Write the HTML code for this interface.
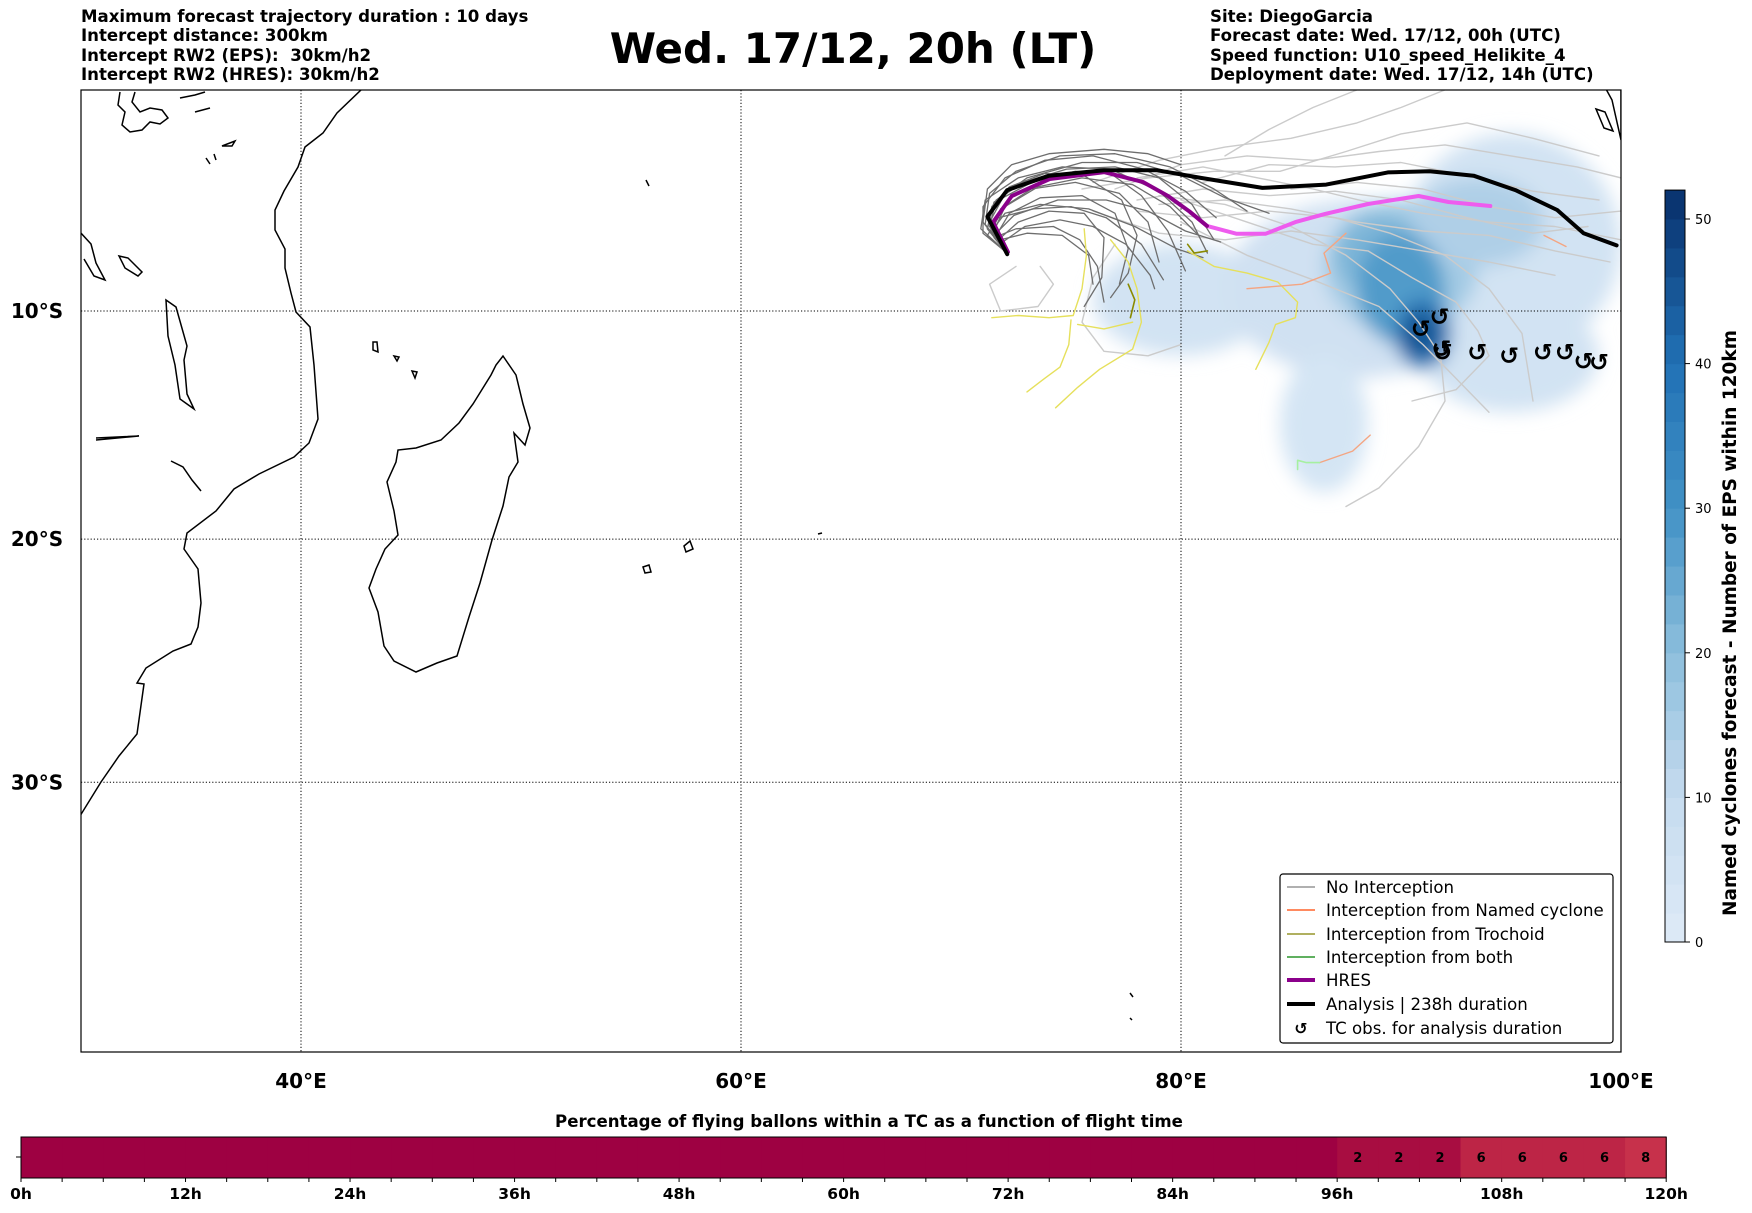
<!DOCTYPE html>
<html><head><meta charset="utf-8">
<style>
html,body{margin:0;padding:0;background:#fff;}
svg{display:block;font-family:"DejaVu Sans","Liberation Sans",sans-serif;}
</style></head>
<body>
<svg id="fig" width="1752" height="1213" viewBox="0 0 1752 1213" xmlns="http://www.w3.org/2000/svg">
<defs>
<filter id="blur" x="-50%" y="-50%" width="200%" height="200%"><feGaussianBlur stdDeviation="9"/></filter>
<clipPath id="mapclip"><rect x="81" y="90" width="1540" height="962"/></clipPath>
</defs>
<g font-weight="bold" font-size="16.6" fill="#000">
<text x="81" y="22">Maximum forecast trajectory duration : 10 days</text>
<text x="81" y="41">Intercept distance: 300km</text>
<text x="81" y="61" xml:space="preserve">Intercept RW2 (EPS):  30km/h2</text>
<text x="81" y="80">Intercept RW2 (HRES): 30km/h2</text>
</g>
<text x="853" y="63" text-anchor="middle" font-size="42" font-weight="bold">Wed. 17/12, 20h (LT)</text>
<g font-weight="bold" font-size="16.6" fill="#000">
<text x="1210" y="22">Site: DiegoGarcia</text>
<text x="1210" y="41">Forecast date: Wed. 17/12, 00h (UTC)</text>
<text x="1210" y="61">Speed function: U10_speed_Helikite_4</text>
<text x="1210" y="80">Deployment date: Wed. 17/12, 14h (UTC)</text>
</g>
<g id="map" clip-path="url(#mapclip)">
<g id="density" filter="url(#blur)"></g>
<g id="coast" fill="none" stroke="#000" stroke-width="1.5"></g>
<g id="grid"></g>
<g id="traj" fill="none" stroke-linejoin="round" stroke-linecap="round"></g>
<g id="tc"></g>
</g>
<rect x="81" y="90" width="1540" height="962" fill="none" stroke="#000" stroke-width="1.2"/>
<g id="axlabels" font-weight="bold" font-size="20"></g>
<g>
<rect x="1280" y="874" width="333" height="169" rx="3" fill="#fff" stroke="#000" stroke-width="1.2"/>
<g font-size="16.6">
<line x1="1287" x2="1315" y1="887" y2="887" stroke="#808080" stroke-width="1.3"/><text x="1326" y="893">No Interception</text>
<line x1="1287" x2="1315" y1="910" y2="910" stroke="#ff4500" stroke-width="1.3"/><text x="1326" y="916">Interception from Named cyclone</text>
<line x1="1287" x2="1315" y1="934" y2="934" stroke="#808000" stroke-width="1.3"/><text x="1326" y="940">Interception from Trochoid</text>
<line x1="1287" x2="1315" y1="957" y2="957" stroke="#008000" stroke-width="1.3"/><text x="1326" y="963">Interception from both</text>
<line x1="1287" x2="1315" y1="980" y2="980" stroke="#8b008b" stroke-width="4"/><text x="1326" y="986">HRES</text>
<line x1="1287" x2="1315" y1="1004" y2="1004" stroke="#000" stroke-width="4"/><text x="1326" y="1010">Analysis | 238h duration</text>
<text x="1301" y="1034" text-anchor="middle" font-weight="bold" font-size="16">↺</text><text x="1326" y="1034">TC obs. for analysis duration</text>
</g>
</g>
<g id="cbar"></g>
<text transform="translate(1736,623) rotate(-90)" text-anchor="middle" font-weight="bold" font-size="18.5">Named cyclones forecast - Number of EPS within 120km</text>
<text x="869" y="1127" text-anchor="middle" font-weight="bold" font-size="16.6">Percentage of flying ballons within a TC as a function of flight time</text>
<g id="tbar"></g>
</svg>
<script>
// ---- data ----
const gridLons = [40, 60, 80, 100];
const gridLats = [10, 20, 30];
const lonLabels = ["40°E", "60°E", "80°E", "100°E"];
const latLabels = ["10°S", "20°S", "30°S"];
const analysisLon = [72.1,71.2,72.1,74.0,76.5,78.9,80.9,83.7,86.6,89.4,91.3,93.3,95.2,97.1,98.3,99.8];
const analysisLat = [7.45,5.75,4.55,3.9,3.65,3.65,4.0,4.45,4.3,3.75,3.7,3.9,4.55,5.45,6.5,7.05];
const hresDarkLon = [72.13,71.46,72.31,74.03,76.52,78.28,79.41,80.41,81.18];
const hresDarkLat = [7.35,6.0,4.82,4.05,3.74,4.19,4.82,5.54,6.17];
const hresPinkLon = [80.41,81.18,82.53,83.84,85.2,86.55,88.5,90.8,92.16,94.06];
const hresPinkLat = [5.54,6.17,6.53,6.53,6.0,5.63,5.18,4.82,5.09,5.27];
const tcLon = [90.9,91.75,91.84,91.9,93.47,94.92,96.45,97.45,98.3,99.0];
const tcLat = [10.8,10.27,11.7,11.85,11.85,12.0,11.85,11.85,12.25,12.3];
const noInterceptDark = [
 [[72.1,7.4],[71.2,6.3],[71.5,5.1],[72.8,4.2],[74.8,3.6],[77,3.5],[79,4.0],[80.5,5.2],[81.5,6.8]],
 [[72.1,7.4],[71.4,6.5],[71.8,5.4],[73.2,4.5],[75.2,4.2],[77.2,4.7],[78.5,6.0],[79,7.8]],
 [[72.1,7.4],[71.6,6.6],[72.2,5.6],[73.6,4.9],[75.5,4.8],[77,5.6],[77.6,7.2],[77.2,8.8]],
 [[72.1,7.4],[71.1,6.1],[71.3,4.7],[72.5,3.7],[74.5,3.0],[77,2.9],[79.5,3.5],[81.5,4.5],[83,5.5]],
 [[72.1,7.4],[71.7,6.8],[72.6,6.0],[74,5.5],[75.6,5.6],[76.5,6.7],[76.4,8.5],[75.6,9.8]],
 [[72.1,7.4],[71.3,6.2],[71.6,5.0],[73,4.0],[75.5,3.3],[78,3.3],[80,3.9],[82,4.9],[84,5.6]],
 [[72.1,7.4],[71.5,6.4],[72,5.3],[73.5,4.4],[75.5,4.0],[77.8,4.3],[79.5,5.3],[80.8,6.6]],
 [[72.1,7.4],[71.9,6.9],[72.9,6.2],[74.5,5.9],[76,6.2],[77.5,7.0],[78.6,8.4],[78.8,9.0]],
 [[72.1,7.4],[71.0,6.0],[71.2,4.5],[72.3,3.4],[74,2.9],[76.5,2.7],[78.5,2.9],[80,3.4]],
 [[72.1,7.4],[71.4,6.4],[72.0,5.6],[73.6,5.2],[75.8,5.4],[77.9,6.2],[79.8,7.2],[81,7.6]],
 [[72.1,7.4],[71.6,6.5],[72.4,5.7],[74.4,5.0],[76.6,5.0],[78.5,5.5],[80.2,6.4],[81.8,6.9]],
 [[72.1,7.4],[71.2,6.3],[71.4,5.3],[72.2,4.4],[73.8,3.8],[75.6,3.9],[77.3,5.0],[78.0,6.6],[77.6,8.3],[76.8,9.4]],
 [[72.1,7.4],[71.8,6.8],[73,6.5],[74.6,6.6],[75.8,7.5],[76.0,8.8]],
 [[72.1,7.4],[71.3,6.0],[71.9,4.9],[73.4,4.1],[75.2,3.7],[76.8,3.8],[78.2,4.8],[79.4,6.4],[80.2,8.2]],
 [[72.1,7.4],[71.0,6.5],[71.0,5.3],[72.0,4.0],[73.8,3.2],[76,3.0],[78.3,3.6],[80.2,4.6],[81.6,5.8]],
 [[72.1,7.4],[71.5,6.7],[72.5,6.3],[74.2,6.2],[75.4,6.8],[76.2,8.0],[76.5,9.6]],
 [[72.1,7.4],[71.2,6.6],[71.7,5.8],[73.3,5.4],[75.0,5.3],[76.6,5.8],[78.2,7.0],[79.2,8.6]],
 [[72.1,7.4],[70.9,6.3],[71.1,5.0],[72.6,4.0],[74.6,3.5],[76.8,3.6],[79.0,4.6],[80.5,6.0],[81.2,7.4]]
];
const noInterceptLight = [
 [[76,4.2],[79,3.2],[82,2.6],[85,2.2],[88,1.5],[90,0.8],[92,0]],
 [[77,4.5],[80,3.4],[83,3.0],[86,3.2],[89,2.8],[92,2.5],[95,3.0],[98,3.5],[100,4]],
 [[78,5],[81,4.5],[84,4.8],[87,4.6],[90,5.0],[93,5.8],[96,6.5],[98.5,6.2]],
 [[78,5.5],[81,5.8],[84,5.5],[87,5.8],[89.5,6.5],[92,7.5],[94,9],[95.5,11],[96,14]],
 [[79,4.8],[82,5.2],[85,6.2],[87.5,7.5],[89.5,9],[90.8,10.5],[91.8,12],[92,14],[90.8,16],[89,17.8],[87.5,18.6]],
 [[78,4],[81,3.5],[83.5,4],[86,4.5],[88.5,5.1],[91,5.6],[94,6.0],[97,6.2],[100,6.8]],
 [[76,5.5],[79,6.5],[82,6.8],[85,6.4],[88,6.8],[91,7.3],[94,7.8],[97,8.4]],
 [[75.5,4.5],[78.5,4.0],[81.5,3.7],[84.5,3.7],[87.5,2.8],[90,2.0],[93,1.5],[96,2.2],[99,3.0]],
 [[80,6],[83,7.5],[86,8.6],[89,9.8],[91,11.5],[92.5,13],[94,14.5]],
 [[72.5,8.0],[71.3,8.8],[71.8,10.0],[73.5,9.8],[74.2,8.8],[73.6,8.0]],
 [[77,7.0],[76,8.5],[75.5,10.5],[76.5,11.8],[78.5,12.0],[80,11.5]],
 [[82,3],[84,1.8],[86,0.8],[88,0]],
 [[85,4.5],[88,4.2],[91,4.5],[94,5.3],[97,5.8],[100,5.5]],
 [[80,5],[83,6],[86,7],[88.5,7.3],[90.5,8.5],[92.5,9.6],[93.5,10.9],[94,12],[92.5,13.5],[90.5,14.0]],
 [[79,5.2],[82,5.0],[85,5.4],[88,6.0],[91,6.4],[94,6.6],[97,7.3],[99.5,7.8]],
 [[81,4.2],[84,3.4],[87,3.5],[90,3.3],[93,3.9],[96,4.6],[99,5.0]]
];
const trochoidYellow = [
 [[75.6,6.3],[75.7,7.5],[75.5,9.0],[75.1,10.2],[74.0,10.3],[72.6,10.2],[71.4,10.3]],
 [[75.0,10.4],[74.9,11.5],[74.5,12.5],[73.8,13.0],[73.0,13.6]],
 [[76.8,6.8],[77.6,7.8],[78.0,9.0],[78.2,10.5],[77.8,11.7],[76.3,12.6],[75.3,13.4],[74.3,14.3]],
 [[75.3,10.6],[76.5,10.8],[77.8,10.5]],
 [[80.3,7.3],[81.5,8.0],[83,8.3],[84.4,8.7],[85.3,9.6],[85.2,10.3],[84.3,10.6],[84.0,11.4],[83.4,12.6]]
];
const trochoidOlive = [
 [[77.6,8.8],[77.9,9.5],[77.7,10.3]],
 [[80.3,7.0],[80.6,7.4],[81.2,7.3]]
];
const namedSalmon = [
 [[83,9.0],[85.5,8.8],[86.8,8.3],[86.5,7.4],[87.5,6.5]],
 [[96.5,6.6],[97.5,7.1]],
 [[86.3,16.7],[87.8,16.2],[88.6,15.5]]
];
const bothGreen = [[[85.3,17.0],[85.3,16.6],[85.7,16.7],[86.3,16.7]]];
// density blobs: lon, lat, value
const blobLon = [80,88,95,86.5,95,90,93.5,89,90,91,90.9];
const blobLat = [9.5,9,7,15,12,8,6,7.5,9,11,11];
const blobRx  = [4,6,5,2,4,3.5,3,2,2,1.3,0.9];
const blobRy  = [2.5,4,5,3,2.5,3,2,1.8,2.5,1.6,1.1];
const blobVal = [5,6,5,4,5,16,14,22,28,36,45];
const cbarTicks = [0,10,20,30,40,50];
const pctValues = [0,0,0,0,0,0,0,0,0,0,0,0,0,0,0,0,0,0,0,0,0,0,0,0,0,0,0,0,0,0,0,0,2,2,2,6,6,6,6,8];
const hourLabels = ["0h","12h","24h","36h","48h","60h","72h","84h","96h","108h","120h"];

// ---- axes ----
const NS = "http://www.w3.org/2000/svg";
const merc = d => Math.log(Math.tan(Math.PI/4 + d*Math.PI/360));
const X = lon => 81 + (lon-30)*22.0;
const Y = lat => 311 + (merc(lat)-merc(10))*1260.5;
function mk(tag, attrs, parent){const e=document.createElementNS(NS,tag);for(const k in attrs)e.setAttribute(k,attrs[k]);parent.appendChild(e);return e;}
function blues(v){
 const stops=[[0,[222,235,247]],[10,[198,219,239]],[20,[140,190,220]],[30,[66,146,198]],[40,[33,113,181]],[52,[8,48,107]]];
 for(let i=1;i<stops.length;i++){if(v<=stops[i][0]){const a=stops[i-1],b=stops[i],t=(v-a[0])/(b[0]-a[0]);return "rgb("+a[1].map((c,j)=>Math.round(c+(b[1][j]-c)*t)).join(",")+")";}}
 return "rgb(8,48,107)";
}

const dens=document.getElementById('density');
for(let i=0;i<blobLon.length;i++){
 const cx=X(blobLon[i]), cy=Y(blobLat[i]);
 const e=mk('ellipse',{cx:cx,cy:cy,rx:blobRx[i]*22,ry:(Y(blobLat[i]+blobRy[i])-Y(blobLat[i]-blobRy[i]))/2,fill:blues(blobVal[i])},dens);
 
 
}

const coast=document.getElementById('coast');
const coastPaths=[
 "M362,89 L337,113 L323,133 L305,147 L298,167 L284,191 L275,210 L275,230 L285,249 L285,268 L291,293 L296,312 L310,327 L314,365 L318,419 L309,443 L294,457 L259,474 L234,489 L216,511 L187,533 L184,549 L198,569 L201,603 L198,627 L191,644 L173,651 L146,668 L137,683 L144,684 L137,734 L119,756 L101,782 L80,816",
 "M503,356 L516,375 L523,404 L530,428 L525,445 L514,433 L518,462 L509,477 L503,506 L492,540 L480,583 L469,617 L457,656 L437,663 L416,672 L394,661 L384,646 L378,612 L369,588 L376,569 L385,549 L398,535 L394,511 L387,482 L396,462 L398,450 L416,448 L441,440 L459,423 L473,404 L491,375 L496,365 Z",
 "M166,300 L176,307 L187,346 L184,360 L187,394 L194,409 L187,404 L180,399 L175,365 L168,336 Z",
 "M80,232 L91,244 L96,263 L105,280 L94,276 L84,259",
 "M119,256 L128,258 L142,272 L138,276 L125,268 Z",
 "M96,438 L139,436 L96,440",
 "M171,461 L183,467 L192,480 L201,491",
 "M120,92 L118,105 L125,112 L122,125 L130,132 L142,130 L150,122 L160,124 L168,118 L162,110 L150,108 L140,112 L132,102 L135,92",
 "M180,98 L195,95 L205,92","M195,112 L210,108",
 "M1596,109 L1605,112 L1613,131 L1604,128 Z",
 "M1606,89 L1612,100 L1621,140 L1621,89",
 "M373,342 L377,342 L378,352 L373,350 Z","M394,356 L399,357 L397,361 Z","M412,371 L417,372 L415,378 Z",
 "M643,567 L649,565 L651,572 L645,573 Z","M684,546 L690,541 L693,549 L686,552 Z",
 "M818,534 L822,533","M646,180 L649,186","M1130,993 L1133,997","M1130,1018 L1132,1020",
 "M222,146 L235,141 L232,146 Z","M206,158 L210,164","M214,154 L216,160"
];
coastPaths.forEach(d=>{const p=mk('path',{d:d},coast);});

const grid=document.getElementById('grid');
gridLons.forEach(l=>{const g=mk('line',{x1:X(l),x2:X(l),y1:90,y2:1052,stroke:'#000','stroke-width':1,'stroke-dasharray':'1.2,2'},grid);});
gridLats.forEach(l=>{const g=mk('line',{x1:81,x2:1621,y1:Y(l),y2:Y(l),stroke:'#000','stroke-width':1,'stroke-dasharray':'1.2,2'},grid);});
const axl=document.getElementById('axlabels');
gridLons.forEach((l,i)=>{const t=mk('text',{x:X(l),y:1088,'text-anchor':'middle'},axl);t.textContent=lonLabels[i];});
gridLats.forEach((l,i)=>{const t=mk('text',{x:37,y:Y(l)+7,'text-anchor':'middle'},axl);t.textContent=latLabels[i];});

const traj=document.getElementById('traj');
const pts = arr => arr.map(p=>X(p[0]).toFixed(1)+","+Y(p[1]).toFixed(1)).join(" ");
function poly(list,color,w,name){list.forEach(a=>{const p=mk('polyline',{points:pts(a),stroke:color,'stroke-width':w},traj);});}
poly(noInterceptLight,'#cbcbcb',1.4,'no-interception-trajectory');
poly(noInterceptDark,'#6e6e6e',1.3,'no-interception-trajectory');
poly(trochoidYellow,'#e6e05c',1.4,'trochoid-interception-trajectory');
poly(trochoidOlive,'#8a8a00',1.6,'trochoid-interception-trajectory');
poly(namedSalmon,'#f4a582',1.4,'named-cyclone-interception-trajectory');
poly(bothGreen,'#a6f0a0',1.6,'both-interception-trajectory');
const zip=(a,b)=>a.map((v,i)=>[v,b[i]]);
poly([zip(hresPinkLon,hresPinkLat)],'#ee5cee',4,'hres-trajectory');
poly([zip(hresDarkLon,hresDarkLat)],'#8b008b',4,'hres-trajectory');
poly([zip(analysisLon,analysisLat)],'#000',4,'analysis-trajectory');

const tc=document.getElementById('tc');
for(let i=0;i<tcLon.length;i++){const t=mk('text',{x:X(tcLon[i]),y:Y(tcLat[i])+8,'text-anchor':'middle','font-size':24,'font-weight':'bold'},tc);t.textContent='↺';}

const cb=document.getElementById('cbar');
const cbY = v => 942 - v*14.46;
for(let v=0; v<52; v+=2){const r=mk('rect',{x:1665,y:cbY(v+2),width:20,height:cbY(v)-cbY(v+2)+0.5,fill:blues(v+1)},cb);}
mk('rect',{x:1665,y:cbY(52),width:20,height:cbY(0)-cbY(52),fill:'none',stroke:'#000','stroke-width':1},cb);
cbarTicks.forEach(v=>{mk('line',{x1:1685,x2:1690,y1:cbY(v),y2:cbY(v),stroke:'#000'},cb);const t=mk('text',{x:1695,y:cbY(v)+5,'font-size':13},cb);t.textContent=v;});

const tb=document.getElementById('tbar');
const HX = h => 21 + h*13.71;
function spectral(v){ if(v<=0) return '#9e0142'; if(v<=2) return '#a80d41'; if(v<=6) return '#bd2546'; return '#c7314b'; }
pctValues.forEach((v,i)=>{const h=i*3;const r=mk('rect',{x:HX(h),y:1137,width:HX(h+3)-HX(h)+0.6,height:41,fill:spectral(v)},tb);
 if(v>0){const t=mk('text',{x:HX(h+1.5),y:1162,'text-anchor':'middle','font-size':13,'font-weight':'bold'},tb);t.textContent=v;}});
mk('rect',{x:HX(0),y:1137,width:HX(120)-HX(0),height:41,fill:'none',stroke:'#000','stroke-width':1},tb);
mk('line',{x1:16,x2:21,y1:1157,y2:1157,stroke:'#000'},tb);
for(let h=0;h<=120;h+=3){mk('line',{x1:HX(h),x2:HX(h),y1:1178,y2:1182,stroke:'#000'},tb);}
hourLabels.forEach((s,i)=>{const t=mk('text',{x:HX(i*12),y:1199,'text-anchor':'middle','font-size':15.5,'font-weight':'bold'},tb);t.textContent=s;});
</script>
</body></html>
